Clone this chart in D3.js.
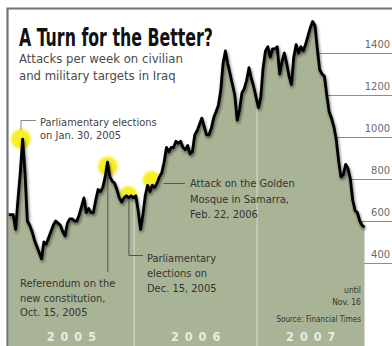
<!DOCTYPE html>
<html><head><meta charset="utf-8">
<script src="https://cdn.jsdelivr.net/npm/d3@7"></script>
<style>body{margin:0;background:#fff;overflow:hidden} svg{display:block}</style>
</head><body><svg id="c" width="392" height="346"></svg>
<script>
// ---- data ----
const firstWeek = "2004-12-24";
const lastWeek = "2007-11-16";
const weeklyAttacks = [
 630,630,630,560,700,830,990,830,600,580,
 550,510,480,450,420,500,490,520,550,580,
 600,590,580,550,530,590,610,610,600,600,
 630,670,710,640,660,640,640,700,750,740,
 760,810,880,810,790,780,750,710,690,710,
 720,710,720,710,720,650,560,630,720,770,
 740,770,760,780,810,830,880,950,930,950,
 950,980,970,980,950,940,960,920,930,1010,
 1030,1060,1090,1050,1010,1010,1040,1090,1120,1150,
 1220,1350,1410,1350,1300,1250,1200,1080,1130,1210,
 1230,1270,1330,1280,1240,1190,1140,1190,1330,1410,
 1430,1380,1420,1420,1430,1300,1360,1400,1350,1290,
 1250,1380,1440,1400,1430,1410,1440,1480,1520,1550,
 1530,1420,1320,1300,1290,1200,1120,1090,1050,990,
 890,810,820,870,850,800,700,650,640,600,
 580,570
];
const yTicks = [400, 600, 800, 1000, 1200, 1400];
const yearLabels = ["2005", "2006", "2007"];
const yearBoundaries = ["2006-01-01", "2007-01-01"];
const eventDates = ["2005-01-30", "2005-10-15", "2005-12-15", "2006-02-22"];
const eventDotValues = [990, 860, 724, 795];
const eventTexts = [
  ["Parliamentary elections", "on Jan. 30, 2005"],
  ["Referendum on the", "new constitution,", "Oct. 15, 2005"],
  ["Parliamentary", "elections on", "Dec. 15, 2005"],
  ["Attack on the Golden", "Mosque in Samarra,", "Feb. 22, 2006"]
];
const titleText = "A Turn for the Better?";
const subtitleLines = ["Attacks per week on civilian", "and military targets in Iraq"];
const noteLines = ["until", "Nov. 16"];
const sourceText = "Source: Financial Times";

// ---- build ----
const parse = d3.utcParse("%Y-%m-%d");
const t0 = parse(firstWeek), t1 = parse(lastWeek);
const data = weeklyAttacks.map((v, i) => ({date: d3.utcDay.offset(t0, 7 * i), value: v}));

const W = 392, H = 346;
const svg = d3.select("#c");
const x = d3.scaleUtc().domain([t0, t1]).range([8.5, 364.5]);
const y = d3.scaleLinear().domain([0, 1400]).range([347, 53]);
const FONT = "'DejaVu Sans Condensed', 'DejaVu Sans', sans-serif";

const defs = svg.append("defs");
const sh = defs.append("filter").attr("id", "shadow").attr("x", "-10%").attr("y", "-10%").attr("width", "120%").attr("height", "130%");
sh.append("feGaussianBlur").attr("in", "SourceAlpha").attr("stdDeviation", 1.8).attr("result", "b");
sh.append("feOffset").attr("in", "b").attr("dx", 1).attr("dy", 2).attr("result", "o");
sh.append("feComponentTransfer").attr("in", "o").attr("result", "oa")
  .append("feFuncA").attr("type", "linear").attr("slope", 0.55);
const m = sh.append("feMerge");
m.append("feMergeNode").attr("in", "oa");
m.append("feMergeNode").attr("in", "SourceGraphic");
const glow = defs.append("filter").attr("id", "soft");
glow.append("feGaussianBlur").attr("stdDeviation", 1.2);

const area = d3.area().x(d => x(d.date)).y0(y(0)).y1(d => y(d.value));
const line = d3.line().x(d => x(d.date)).y(d => y(d.value));
defs.append("clipPath").attr("id", "areaClip").append("path").attr("d", area(data));

// gridlines + labels
const grid = svg.append("g");
grid.selectAll("line").data(yTicks).join("line")
  .attr("x1", 310).attr("x2", W).attr("y1", d => Math.round(y(d)) + 0.5).attr("y2", d => Math.round(y(d)) + 0.5)
  .attr("stroke", "#8c8c8c").attr("stroke-width", 1);
grid.selectAll("text").data(yTicks).join("text")
  .attr("x", 390).attr("y", d => y(d) - 5).attr("text-anchor", "end")
  .attr("font-family", FONT).attr("font-size", 11).attr("fill", "#6a6a6a").text(d => d);

// yellow dots (behind area)
svg.append("g").selectAll("circle").data(eventDates).join("circle")
  .attr("cx", d => x(parse(d))).attr("cy", (d, i) => y(eventDotValues[i]))
  .attr("r", (d, i) => i < 2 ? 10 : 9)
  .attr("fill", "#f6ee2c").attr("filter", "url(#soft)");

// area
svg.append("path").attr("d", area(data)).attr("fill", "#a9b395");

// year dividers (inside area)
svg.append("g").attr("clip-path", "url(#areaClip)").selectAll("line").data(yearBoundaries).join("line")
  .attr("x1", d => x(parse(d))).attr("x2", d => x(parse(d))).attr("y1", 0).attr("y2", H)
  .attr("stroke", "#d2d8c6").attr("stroke-width", 1.2);

// leader lines
const ld = svg.append("g").attr("stroke", "#555").attr("stroke-width", 1).attr("fill", "none");
const ex = eventDates.map(d => x(parse(d)));
ld.append("path").attr("d", `M${ex[0]},${y(eventDotValues[0]) - 9} V120.5 H36`).attr("stroke", "#888");
ld.append("path").attr("d", `M${ex[1]},${y(eventDotValues[1]) + 6} V272`);
ld.append("path").attr("d", `M${ex[2] + 0.5},${y(eventDotValues[2]) + 6} V255.5 H143`);
ld.append("path").attr("d", `M${ex[3] + 12},183.5 H185`);

// line with shadow
svg.append("path").attr("d", line(data)).attr("fill", "none").attr("stroke", "#000")
  .attr("stroke-width", 2.8).attr("stroke-linejoin", "round").attr("filter", "url(#shadow)");

// frame
svg.append("path").attr("d", `M7.5,${H} V8.5 H${W}`).attr("fill", "none").attr("stroke", "#747474").attr("stroke-width", 2.2);

// title
svg.append("text").attr("x", 19).attr("y", 46).attr("font-family", FONT).attr("font-weight", "bold")
  .attr("font-size", 25).attr("fill", "#111").attr("textLength", 194).attr("lengthAdjust", "spacingAndGlyphs").text(titleText);
svg.append("g").selectAll("text").data(subtitleLines).join("text")
  .attr("x", 19).attr("y", (d, i) => 63 + i * 17).attr("font-family", FONT).attr("font-size", 13)
  .attr("fill", "#4a4a4a").text(d => d);

// annotation texts
const annPos = [[40, 126, 13], [20, 287, 14.5], [147, 262, 15], [190, 187, 15.5]];
eventTexts.forEach((lines, k) => {
  const [ax, ay, lh] = annPos[k];
  svg.append("g").selectAll("text").data(lines).join("text")
    .attr("x", ax).attr("y", (d, i) => ay + i * lh).attr("font-family", FONT).attr("font-size", 11)
    .attr("fill", k === 0 ? "#444" : "#333").text(d => d);
});

// note & source
svg.append("g").selectAll("text").data(noteLines).join("text")
  .attr("x", 361).attr("y", (d, i) => 293 + i * 12).attr("text-anchor", "end")
  .attr("font-family", FONT).attr("font-size", 8.5).attr("fill", "#333").text(d => d);
svg.append("text").attr("x", 361).attr("y", 322).attr("text-anchor", "end")
  .attr("font-family", FONT).attr("font-size", 8).attr("fill", "#333").text(sourceText);

// year labels
const bounds = [t0, ...yearBoundaries.map(parse), t1];
svg.append("g").selectAll("text").data(yearLabels).join("text")
  .attr("x", (d, i) => (x(bounds[i]) + x(bounds[i + 1])) / 2 + 3)
  .attr("y", 341).attr("text-anchor", "middle").attr("font-family", FONT).attr("font-weight", "bold")
  .attr("font-size", 12.5).attr("letter-spacing", 6).attr("fill", "#e9ece2").text(d => d);
</script></body></html>
